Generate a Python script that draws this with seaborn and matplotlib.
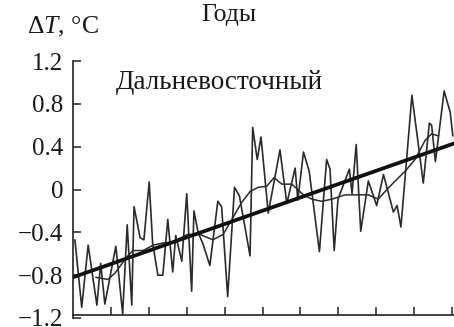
import matplotlib
matplotlib.use("Agg")
import matplotlib.pyplot as plt
import seaborn as sns
import pandas as pd

# ---- data ----
annual_years = [1900.5, 1902.3, 1904.0, 1906.3, 1907.3, 1908.4, 1911.3, 1913.1, 1914.3, 1915.5,
                1916.1, 1917.7, 1918.7, 1920.1, 1921.0, 1922.4, 1923.7, 1925.0, 1926.3, 1927.1,
                1928.7, 1930.0, 1931.3, 1931.9, 1933.0, 1934.3, 1936.1, 1938.2, 1939.2, 1940.8,
                1942.6, 1943.9, 1946.7, 1947.4, 1948.6, 1949.6, 1951.5, 1954.6, 1956.4, 1958.6,
                1959.3, 1960.8, 1962.3, 1965.0, 1966.9, 1967.8, 1968.9, 1969.9, 1972.9, 1973.6,
                1974.7, 1975.9, 1977.9, 1980.1, 1981.9, 1984.5, 1985.5, 1986.5, 1988.0, 1989.4,
                1992.4, 1994.0, 1994.6, 1995.6, 1997.9, 1999.5, 2000.2]
annual_dt = [-0.47, -1.10, -0.52, -1.08, -0.69, -1.07, -0.53, -1.16, -0.33, -1.08,
             -0.16, -0.45, -0.47, 0.07, -0.50, -0.80, -0.80, -0.28, -0.77, -0.43,
             -0.67, -0.04, -0.95, -0.20, -0.40, -0.51, -0.71, -0.11, -0.16, -1.00,
             0.02, -0.06, -0.62, 0.58, 0.28, 0.49, -0.22, 0.37, -0.13, 0.20,
             -0.10, 0.35, 0.17, -0.58, 0.28, 0.19, -0.57, -0.09, 0.19, -0.04,
             0.42, -0.39, 0.08, -0.15, 0.14, -0.21, -0.15, -0.35, 0.28, 0.88,
             0.06, 0.62, 0.60, 0.26, 0.92, 0.72, 0.50]

smooth_years = [1906.0, 1909.2, 1911.1, 1914.2, 1915.8, 1918.5, 1921.1, 1923.7, 1926.4, 1930.1,
                1933.5, 1936.9, 1939.6, 1941.9, 1944.5, 1946.7, 1948.8, 1951.1, 1953.0, 1955.1,
                1957.7, 1960.8, 1963.0, 1965.6, 1968.3, 1971.8, 1975.3, 1977.9, 1980.5, 1982.3,
                1985.0, 1987.6, 1990.2, 1992.9, 1994.6, 1996.4]
smooth_dt = [-0.82, -0.84, -0.78, -0.63, -0.57, -0.57, -0.52, -0.50, -0.49, -0.42,
             -0.42, -0.47, -0.42, -0.28, -0.12, -0.02, 0.02, 0.03, 0.11, 0.05,
             0.05, -0.05, -0.09, -0.11, -0.09, -0.05, -0.05, -0.05, -0.09, -0.02,
             0.08, 0.17, 0.28, 0.46, 0.52, 0.50]

trend_years = [1900.0, 2000.5]
trend_dt = [-0.82, 0.43]

y_ticks = [1.2, 0.8, 0.4, 0.0, -0.4, -0.8, -1.2]
y_tick_labels = ["1.2", "0.8", "0.4", "0", "\u22120.4", "\u22120.8", "\u22121.2"]
x_ticks = [1910, 1920, 1930, 1940, 1950, 1960, 1970, 1980, 1990, 2000]

title_text = "Дальневосточный"
x_label = "Годы"
y_label = r"$\Delta T$, °C"

# ---- styling ----
sns.set_theme(style="white")
plt.rcParams["font.family"] = ["Liberation Serif", "DejaVu Serif"]
plt.rcParams["mathtext.fontset"] = "custom"
plt.rcParams["mathtext.rm"] = "Liberation Serif"
plt.rcParams["mathtext.it"] = "Liberation Serif:italic"

W, H = 454, 327
fig = plt.figure(figsize=(W / 100, H / 100), dpi=100)
fig.patch.set_facecolor("white")
ax = fig.add_axes([73 / W, 1 - 318 / H, (454 - 73) / W, (318 - 61) / H])
ax.set_facecolor("white")

df_a = pd.DataFrame({"year": annual_years, "dt": annual_dt})
df_s = pd.DataFrame({"year": smooth_years, "dt": smooth_dt})
df_t = pd.DataFrame({"year": trend_years, "dt": trend_dt})

line_col = "#2b2b2b"
sns.lineplot(data=df_a, x="year", y="dt", ax=ax, color=line_col, lw=1.2, estimator=None)
sns.lineplot(data=df_s, x="year", y="dt", ax=ax, color=line_col, lw=1.1, estimator=None)
sns.lineplot(data=df_t, x="year", y="dt", ax=ax, color="#111111", lw=2.7, estimator=None)

ax.set_xlim(1900, 2000.5)
ax.set_ylim(-1.2, 1.2)
ax.set_xlabel("")
ax.set_ylabel("")

for s in ["top", "right"]:
    ax.spines[s].set_visible(False)
ax.spines["left"].set_color("#222222")
ax.spines["left"].set_linewidth(1.2)
ax.spines["bottom"].set_color("#222222")
ax.spines["bottom"].set_linewidth(1.2)
ax.spines["bottom"].set_position(("data", -1.17))

ax.set_yticks(y_ticks)
ax.set_yticklabels(y_tick_labels)
ax.set_xticks(x_ticks)
ax.set_xticklabels([])
ax.tick_params(axis="y", direction="in", length=6, width=1.1, color="#222222",
               left=True, pad=7, labelsize=18, labelcolor="#1a1a1a")
ax.tick_params(axis="x", direction="in", length=6, width=1.1, color="#222222",
               bottom=True)

fig.text(116 / W, 1 - 89 / H, title_text, fontsize=19.5, color="#1a1a1a",
         ha="left", va="baseline")
fig.text(229 / W, 1 - 21 / H, x_label, fontsize=18.5, color="#1a1a1a",
         ha="center", va="baseline")
fig.text(27 / W, 1 - 33 / H, y_label, fontsize=18.5, color="#1a1a1a",
         ha="left", va="baseline")

fig.savefig("out.png", dpi=100, facecolor="white")
